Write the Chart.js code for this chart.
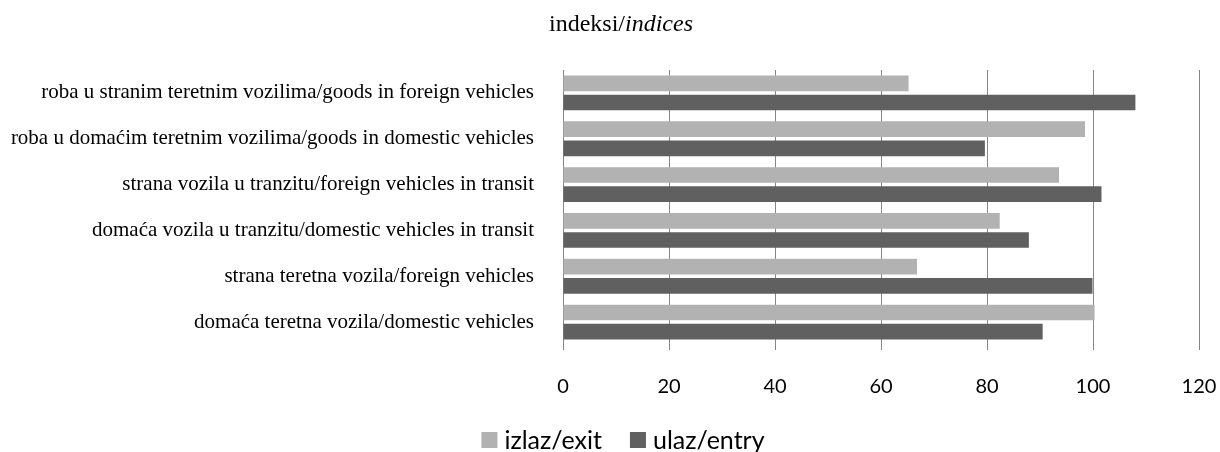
<!DOCTYPE html>
<html>
<head>
<meta charset="utf-8">
<script src="https://cdn.jsdelivr.net/npm/chart.js@4"></script>
<style>
  html, body { margin: 0; padding: 0; background: #fff; }
  #wrap { width: 1220px; height: 452px; }
</style>
</head>
<body>
<div id="wrap"><canvas id="chart"></canvas></div>
<script>
// categories, top to bottom
const categories = [
  "roba u stranim teretnim vozilima/goods in foreign vehicles",
  "roba u domaćim teretnim vozilima/goods in domestic vehicles",
  "strana vozila u tranzitu/foreign vehicles in transit",
  "domaća vozila u tranzitu/domestic vehicles in transit",
  "strana teretna vozila/foreign vehicles",
  "domaća teretna vozila/domestic vehicles"
];
const exitValues = [65.2, 98.5, 93.6, 82.4, 66.8, 100.3];
const entryValues = [108.0, 79.6, 101.6, 87.9, 99.9, 90.5];
const xTicks = [0, 20, 40, 60, 80, 100, 120];

// title with a regular and an italic part
const titlePlugin = {
  id: "mixedTitle",
  afterDraw(chart) {
    const c = chart.ctx;
    const a = "indeksi/", b = "indices";
    c.save();
    c.fillStyle = "#000";
    c.textBaseline = "alphabetic";
    c.font = "24px 'Liberation Serif'";
    const wa = c.measureText(a).width;
    c.font = "italic 24px 'Liberation Serif'";
    const wb = c.measureText(b).width;
    const x0 = 621 - (wa + wb) / 2;
    c.font = "24px 'Liberation Serif'";
    c.fillText(a, x0, 31);
    c.font = "italic 24px 'Liberation Serif'";
    c.fillText(b, x0 + wa, 31);
    c.restore();
  }
};

// legend under the axis, drawn from the datasets
const legendPlugin = {
  id: "bottomLegend",
  afterDraw(chart) {
    const c = chart.ctx;
    const sets = chart.data.datasets;
    const box = 16, gap = 7, itemGap = 28;
    c.save();
    c.font = "25px Lato";
    const widths = sets.map(d => c.measureText(d.label).width);
    let total = 0;
    widths.forEach((w, i) => { total += box + gap + w + (i ? itemGap : 0); });
    let x = 623 - total / 2;
    sets.forEach((d, i) => {
      c.fillStyle = d.backgroundColor;
      c.fillRect(x, 432, box, box);
      x += box + gap;
      c.fillStyle = "#000";
      c.textBaseline = "alphabetic";
      c.fillText(d.label, x, 449);
      x += widths[i] + itemGap;
    });
    c.restore();
  }
};

const ctx = document.getElementById("chart").getContext("2d");
new Chart(ctx, {
  type: "bar",
  data: {
    labels: categories,
    datasets: [
      { label: "izlaz/exit", data: exitValues, backgroundColor: "#b2b2b2" },
      { label: "ulaz/entry", data: entryValues, backgroundColor: "#606060" }
    ]
  },
  options: {
    indexAxis: "y",
    responsive: true,
    maintainAspectRatio: false,
    animation: false,
    categoryPercentage: 0.835,
    barPercentage: 0.82,
    layout: { padding: { top: 70, right: 3, left: 0, bottom: 28 } },
    plugins: {
      legend: { display: false },
      title: { display: false },
      tooltip: { enabled: false }
    },
    scales: {
      x: {
        min: 0,
        max: 120,
        afterBuildTicks(scale) { scale.ticks = xTicks.map(v => ({ value: v })); },
        afterFit(scale) { scale.paddingRight = 21; },
        grid: { color: "#868686", lineWidth: 1, tickLength: 5, drawTicks: true },
        border: { display: false },
        ticks: { font: { family: "Lato", size: 20 }, color: "#000", padding: 25 }
      },
      y: {
        afterFit(scale) { scale.width = 563; },
        grid: { display: false },
        border: { display: true, color: "#868686", width: 1 },
        ticks: { font: { family: "Liberation Serif", size: 21 }, color: "#000", padding: 21 }
      }
    }
  },
  plugins: [titlePlugin, legendPlugin]
});
</script>
</body>
</html>
